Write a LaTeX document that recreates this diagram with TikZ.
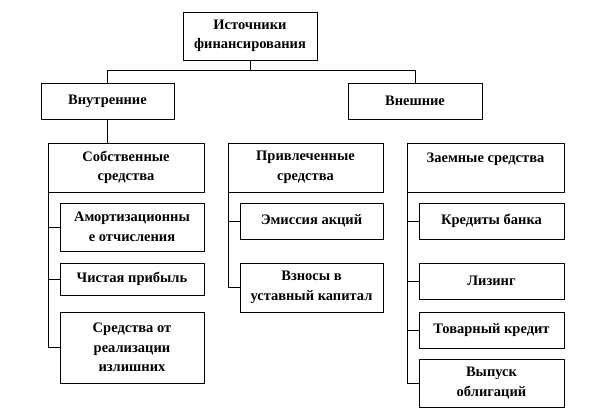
\documentclass[tikz,border=0pt]{standalone}
\usepackage{fontspec}
\setmainfont{Liberation Serif}
\usetikzlibrary{shadows}

\begin{document}
\begin{tikzpicture}[x=1pt, y=-1pt,
    box/.style={draw, fill=white, line width=0.5pt, align=center, inner sep=2pt,
      font=\bfseries\fontsize{14.5}{19.5}\selectfont,
      drop shadow={shadow xshift=0.9pt, shadow yshift=-0.9pt, fill=black!70, opacity=1}},
    link/.style={line width=0.5pt}]
      \useasboundingbox (0,0) rectangle (612,411);

      % Root of the tree
      \node[box, minimum width=134pt, minimum height=48pt] (Src) at (250,36) {Источники\\финансирования};

      % Second level: internal and external sources
      \node[box, minimum width=133pt, minimum height=36pt] (Int) at (107.5,101) {Внутренние};
      \node[box, minimum width=134pt, minimum height=36pt] (Ext) at (415,101) {Внешние};

      % Third level: three groups of funds
      \node[box, minimum width=156pt, minimum height=49pt] (Own) at (126,167.5) {Собственные\\средства};
      \node[box, minimum width=155pt, minimum height=49pt] (Att) at (305.5,167.5) {Привлеченные\\средства};
      \node[box, minimum width=157pt, minimum height=49pt] (Bor) at (485.5,167.5) {Заемные средства\\~};

      % Own funds
      \node[box, minimum width=144pt, minimum height=48pt] (Own1) at (132,227) {Амортизационны\\е отчисления};
      \node[box, minimum width=144pt, minimum height=32pt] (Own2) at (132,279) {Чистая прибыль};
      \node[box, minimum width=144pt, minimum height=71pt] (Own3) at (132,347.5) {Средства от\\реализации\\излишних};

      % Attracted funds
      \node[box, minimum width=143pt, minimum height=36pt] (Att1) at (311.5,221) {Эмиссия акций};
      \node[box, minimum width=143pt, minimum height=49pt] (Att2) at (311.5,287.5) {Взносы в\\уставный капитал};

      % Borrowed funds
      \node[box, minimum width=145pt, minimum height=36pt] (Bor1) at (491.5,221) {Кредиты банка};
      \node[box, minimum width=145pt, minimum height=36pt] (Bor2) at (491.5,281) {Лизинг};
      \node[box, minimum width=145pt, minimum height=36pt] (Bor3) at (491.5,330) {Товарный кредит};
      \node[box, minimum width=145pt, minimum height=48pt] (Bor4) at (491.5,383) {Выпуск\\облигаций};

      % Connect the root to the second level
      \draw[link] (Src.south) -- ++(0,10) -| (Int.north);
      \draw[link] (Src.south) -- ++(0,10) -| (Ext.north);
      \draw[link] (Int.south) -- (Int.south |- Own.north);

      % Connect each group to its items
      \draw[link] (Own.south west) |- (Own1.west);
      \draw[link] (Own.south west) |- (Own2.west);
      \draw[link] (Own.south west) |- (Own3.west);
      \draw[link] (Att.south west) |- (Att1.west);
      \draw[link] (Att.south west) |- (Att2.west);
      \draw[link] (Bor.south west) |- (Bor1.west);
      \draw[link] (Bor.south west) |- (Bor2.west);
      \draw[link] (Bor.south west) |- (Bor3.west);
      \draw[link] (Bor.south west) |- (Bor4.west);
    \end{tikzpicture}
\end{document}
